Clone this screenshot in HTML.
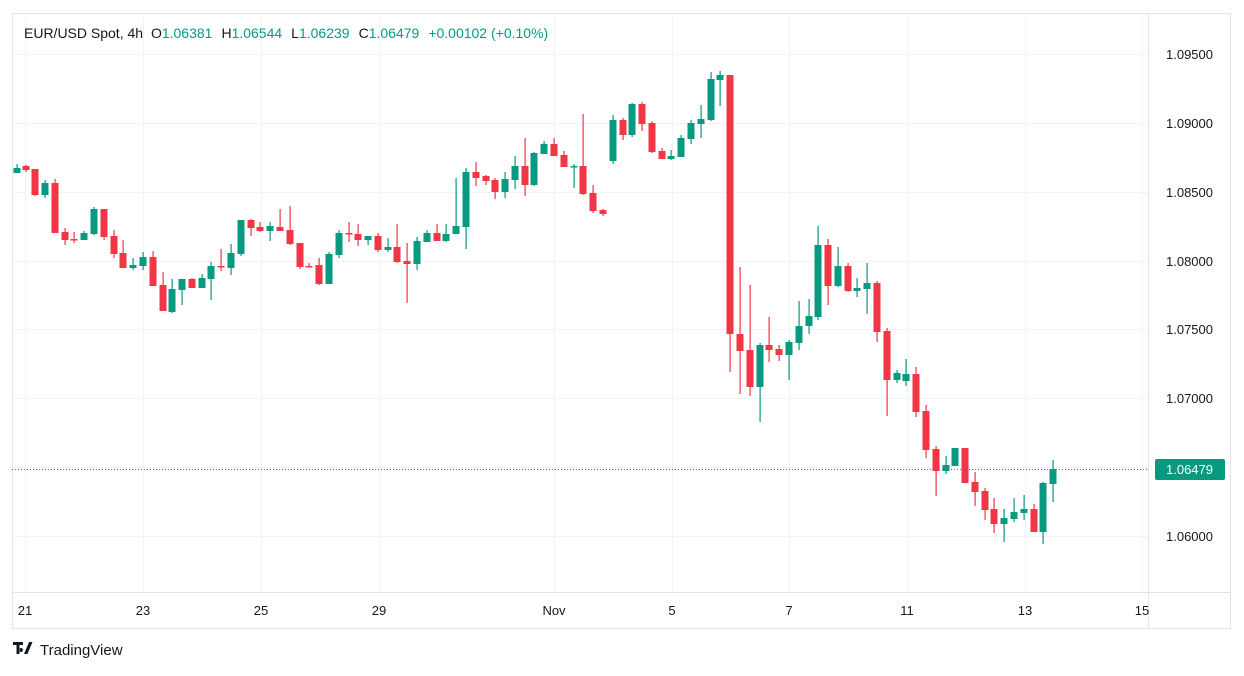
<!DOCTYPE html>
<html><head><meta charset="utf-8"><style>
body{margin:0;background:#fff;width:1244px;height:671px;overflow:hidden;font-family:"Liberation Sans",sans-serif}
</style></head><body>
<svg id="s" width="1244" height="671" xmlns="http://www.w3.org/2000/svg" font-family="Liberation Sans, sans-serif">
<rect x="12.5" y="13.5" width="1218" height="615" fill="none" stroke="#e0e3eb"/>
<line x1="1148.5" y1="13" x2="1148.5" y2="628" stroke="#e0e3eb"/>
<line x1="12" y1="592.5" x2="1230" y2="592.5" stroke="#e0e3eb"/>
<g id="grid" stroke="#f0f3fa" stroke-width="1"></g>
<g id="c"></g>
<line x1="12" y1="469.5" x2="1148" y2="469.5" stroke="#089981" stroke-dasharray="1 2"/>
<g font-size="13" fill="#131722">
<text x="1166" y="59">1.09500</text><text x="1166" y="128">1.09000</text><text x="1166" y="197">1.08500</text>
<text x="1166" y="266">1.08000</text><text x="1166" y="334">1.07500</text><text x="1166" y="403">1.07000</text>
<text x="1166" y="541">1.06000</text>
</g>
<rect x="1155" y="459" width="70" height="21" rx="2" fill="#089981"/>
<text x="1166" y="474" font-size="13" fill="#fff">1.06479</text>
<g font-size="13" fill="#131722" text-anchor="middle">
<text x="25" y="615">21</text><text x="143" y="615">23</text><text x="261" y="615">25</text><text x="379" y="615">29</text>
<text x="554" y="615">Nov</text><text x="672" y="615">5</text><text x="789" y="615">7</text><text x="907" y="615">11</text>
<text x="1025" y="615">13</text><text x="1142" y="615">15</text>
</g>
<text x="24" y="38" font-size="14" fill="#131722">EUR/USD Spot, 4h <tspan dx="4">O</tspan><tspan fill="#089981">1.06381</tspan><tspan dx="9">H</tspan><tspan fill="#089981">1.06544</tspan><tspan dx="9">L</tspan><tspan fill="#089981">1.06239</tspan><tspan dx="9">C</tspan><tspan fill="#089981">1.06479</tspan><tspan dx="9" fill="#089981">+0.00102 (+0.10%)</tspan></text>
<g fill="#131722"><path d="M13 642h10v3h-3.5v9h-3v-9H13z M24 654l5-12h3.5l-5 12z M21 648a2 2 0 1 0 0.01 0z"/></g>
<text x="40" y="655" font-size="15" fill="#131722">TradingView</text>
</svg>
<script>
var ns="http://www.w3.org/2000/svg";
var g=document.getElementById('grid');
[54,123,192,261,329,398,467,536].forEach(function(y){var l=document.createElementNS(ns,'line');l.setAttribute('x1',12);l.setAttribute('x2',1148);l.setAttribute('y1',y+.5);l.setAttribute('y2',y+.5);g.appendChild(l);});
[25,143,261,379,554,672,789,907,1025,1142].forEach(function(x){var l=document.createElementNS(ns,'line');l.setAttribute('y1',14);l.setAttribute('y2',592);l.setAttribute('x1',x+.5);l.setAttribute('x2',x+.5);g.appendChild(l);});
var d=[
[16.5,173,168,164,173],[25.5,166,170,165,172],[35,169,195,169,196],[45,195,183,180,198],[55,183,233,179,233],
[65,232,240,228,245],[74,239,239,232,243],[84,240,233,231,240],[94,234,209,207,235],[104,209,237,209,240],
[114,236,254,230,258],[123,253,268,240,268],[133,268,265,258,270],[143,266,257,252,270],[153,257,286,251,286],
[163,285,311,272,311],[172,312,289,279,313],[182,290,279,279,305],[192,279,288,278,288],[202,288,278,274,288],
[211,279,266,262,300],[221,266,266.5,249,271],[231,268,253,244,275],[241,254,220,220,256],[251,220,228,219,236],
[260,227,231,222,232],[270,231,226,222,241],[280,227,231,209,231],[290,230,244,206,245],[300,243,267,243,269],
[309,266,266.5,263,267],[319,265,284,258,285],[329,284,254,252,284],[339,255,233,230,258],[349,233,233.5,222,242],
[358,234,240,224,246],[368,240,236,236,245],[378,236,250,233,252],[388,250,247,238,252],[397,247,262,224,263],
[407,261,264,243,303],[417,264,241,237,270],[427,242,233,230,242],[437,233,241,224,241],[446,241,234,224,242],
[456,234,226,178,234],[466,227,172,168,249],[476,172,178,162,186],[486,176,181,175,185],[495,180,192,178,199],
[505,192,179,172,198],[515,180,166,156,189],[525,166,185,138,196],[534,185,153,152,186],[544,154,144,141,154],
[554,144,156,138,156],[564,155,167,151,167],[574,166.5,166,164,188],[583,166,194,114,195],[593,193,211,185,213],
[603,210,214,209,216],[613,161,120,115,164],[623,120,135,118,140],[632,135,104,103,137],[642,104,124,102,131],
[652,123,152,121,153],[662,151,159,148,159],[671,159,156,150,160],[681,157,138,135,157],[691,139,123,120,144],
[701,124,119,105,138],[711,120,79,72,121],[720,80,75,71,106],[730,75,334,75,372],[740,334,351,267,394],
[750,350,387,285,396],[760,387,345,343,422],[769,345,350,317,362],[779,349,355,345,361],[789,355,342,340,380],
[799,343,326,301,350],[809,326,316,299,334],[818,317,245,226,320],[828,245,286,239,305],[838,286,266,247,287],
[848,266,291,263,292],[857,291,288,278,297],[867,289,283,263,314],[877,283,332,281,342],[887,331,380,328,416],
[897,380,373,370,383],[906,381,374,359,386],[916,374,412,367,417],[926,411,450,405,458],[936,449,471,446,496],
[946,471,465,456,474],[955,466,448,448,466],[965,448,483,448,483],[975,482,492,472,506],[985,491,510,488,520],
[994,509,524,498,533],[1004,524,518,509,542],[1014,519,512,498,522],[1024,513,509,495,520],[1034,509,532,504,532],
[1043,532,483,482,544],[1053,484,469,460,502]];
var c=document.getElementById('c');
d.forEach(function(k){var up=k[2]<k[1];var col=up?'#089981':'#F23645';
var w=document.createElementNS(ns,'rect');w.setAttribute('x',Math.round(k[0])-0.5);w.setAttribute('width',1.2);w.setAttribute('y',k[3]);w.setAttribute('height',Math.max(1,k[4]-k[3]));w.setAttribute('fill',col);c.appendChild(w);
var b=document.createElementNS(ns,'rect');var t=Math.min(k[1],k[2]),h=Math.max(1.5,Math.abs(k[1]-k[2]));
b.setAttribute('x',Math.round(k[0])-3.5);b.setAttribute('width',7);b.setAttribute('y',t);b.setAttribute('height',h);b.setAttribute('fill',col);c.appendChild(b);});
</script>
</body></html>
